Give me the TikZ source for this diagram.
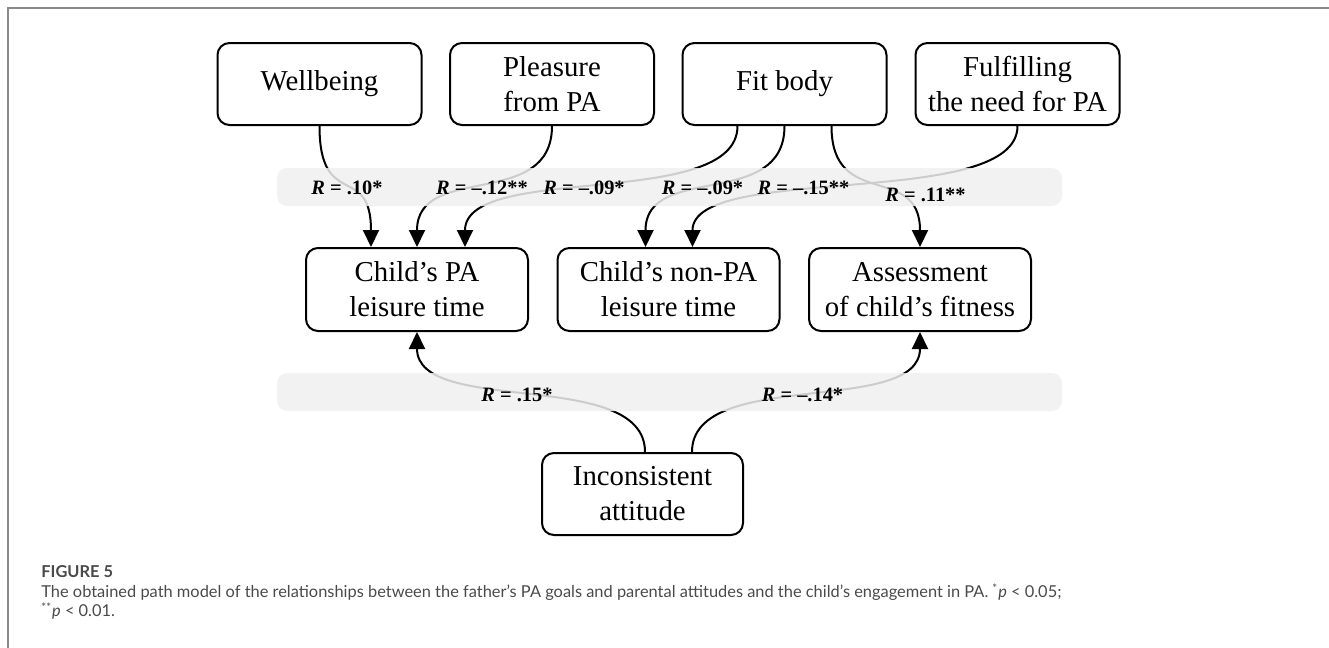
\documentclass[tikz,border=0pt]{standalone}
\usepackage{fontspec}
\setmainfont{Liberation Serif}
\newfontfamily\capfont{Lato}
\usetikzlibrary{arrows.meta,calc}
\definecolor{framegray}{HTML}{8A8A8A}
\definecolor{bandgray}{HTML}{F0F0F0}
\definecolor{captext}{HTML}{4A4A4A}
\begin{document}
\begin{tikzpicture}[x=0.5pt,y=-0.5pt,
  box/.style={draw,line width=1pt,rounded corners=6pt,align=center,inner sep=0pt,
    font=\fontsize{14.4}{17.5}\selectfont},
  topbox/.style={box,minimum width=102pt,minimum height=41pt},
  midbox/.style={box,minimum width=111pt,minimum height=41.5pt},
  conn/.style={line width=1pt,-{Triangle[length=8.5pt,width=8pt]}},
  band/.style={fill=bandgray,fill opacity=0.85,draw=none,rounded corners=5pt},
  rlabel/.style={font=\fontsize{10.2}{12}\selectfont\bfseries,inner sep=0pt},
  captxt/.style={font=\capfont\fontsize{8.2}{10}\selectfont,text=captext,anchor=west,inner sep=0pt}
]
\useasboundingbox (0,0) rectangle (1329,648);
% frame
\draw[framegray,line width=1pt] (1329,7.5) -- (7.5,7.5) -- (7.5,648);

% nodes
\node[topbox] (wb) at (319.5,84) {Wellbeing};
\node[topbox] (pl) at (552,84) {Pleasure\\from PA};
\node[topbox] (fb) at (784.5,84) {Fit body};
\node[topbox] (ff) at (1017.5,84) {Fulfilling\\the need for PA};
\node[midbox] (cpa) at (417,289.5) {Child’s PA\\leisure time};
\node[midbox] (cnp) at (668.5,289.5) {Child’s non-PA\\leisure time};
\node[midbox] (asm) at (920,289.5) {Assessment\\of child’s fitness};
\node[box,minimum width=100.5pt,minimum height=41pt] (inc) at (642.5,494) {Inconsistent\\attitude};

% connectors
\draw[conn] (wb.south) .. controls +(0,85) and +(0,-85) .. ($(cpa.north)+(-46,0)$);
\draw[conn] (pl.south) .. controls +(0,85) and +(0,-85) .. (cpa.north);
\draw[conn] ($(fb.south)+(-47,0)$) .. controls +(0,85) and +(0,-85) .. ($(cpa.north)+(48,0)$);
\draw[conn] (fb.south) .. controls +(0,85) and +(0,-85) .. ($(cnp.north)+(-23,0)$);
\draw[conn] (ff.south) .. controls +(0,85) and +(0,-85) .. ($(cnp.north)+(24,0)$);
\draw[conn] ($(fb.south)+(47,0)$) .. controls +(0,85) and +(0,-85) .. (asm.north);
\draw[conn] ($(inc.north)+(2.5,0)$) .. controls +(0,-85) and +(0,85) .. (cpa.south);
\draw[conn] ($(inc.north)+(49.5,0)$) .. controls +(0,-85) and +(0,85) .. (asm.south);

% bands
\fill[band] (277,168) rectangle (1062,206);
\fill[band] (277,373) rectangle (1062,411);

% labels
\node[rlabel] (l1) at (347,188) {\textit{R} = .10*};
\node[rlabel] (l2) at (482,188) {\textit{R} = \textendash.12**};
\node[rlabel] (l3) at (584,188) {\textit{R} = \textendash.09*};
\node[rlabel] (l4) at (702.5,188) {\textit{R} = \textendash.09*};
\node[rlabel] (l5) at (803.5,188) {\textit{R} = \textendash.15**};
\node[rlabel] (l6) at (925.5,195) {\textit{R} = .11**};
\node[rlabel] (l7) at (517,395) {\textit{R} = .15*};
\node[rlabel] (l8) at (802.5,395) {\textit{R} = \textendash.14*};

% caption
\node[captxt,font=\capfont\bfseries\fontsize{8.2}{10}\selectfont] (fig) at (41,572) {FIGURE 5};
\node[captxt] (c1) at (41,592) {The obtained path model of the relationships between the father’s PA goals and parental attitudes and the child’s engagement in PA. \textsuperscript{*}\textit{p} < 0.05;};
\node[captxt] (c2) at (41,611) {\textsuperscript{**}\textit{p} < 0.01.};
\end{tikzpicture}
\end{document}
